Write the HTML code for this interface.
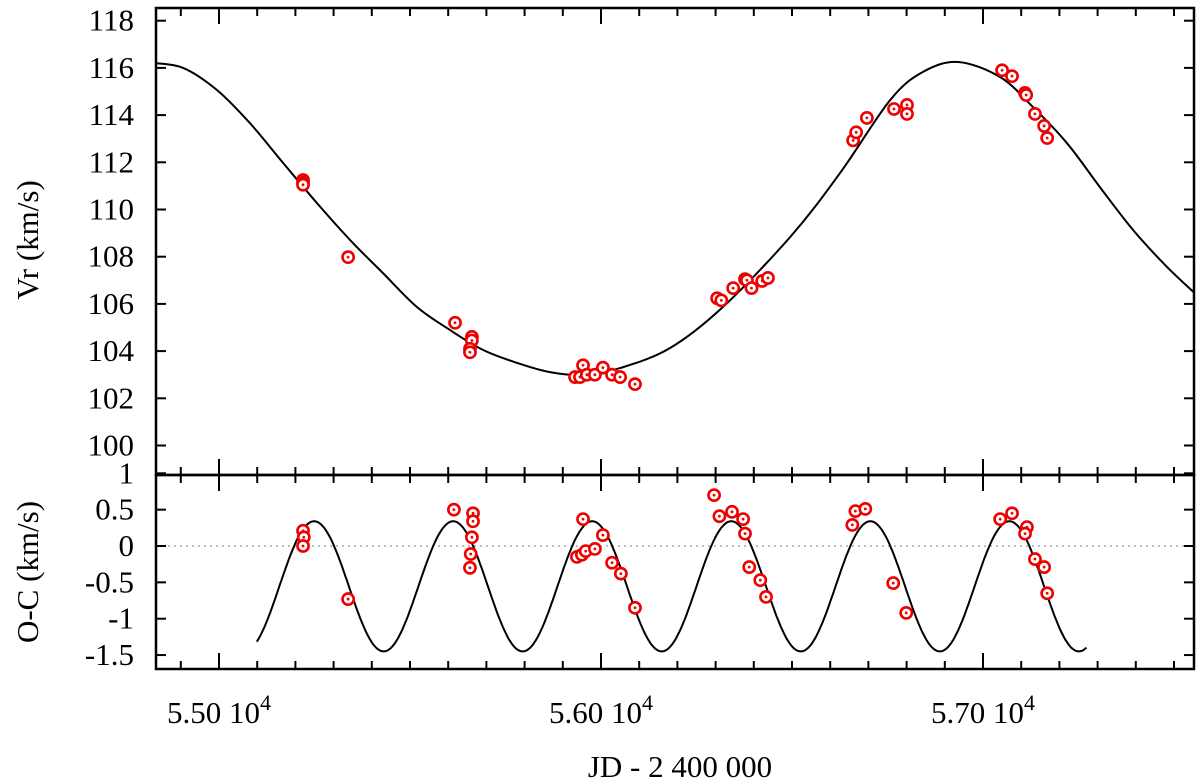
<!DOCTYPE html>
<html><head><meta charset="utf-8">
<style>
html,body{margin:0;padding:0;background:#fff;}
svg{display:block;font-family:"Liberation Serif",serif;}
</style></head>
<body>
<svg id="chart" width="1200" height="783" viewBox="0 0 1200 783" xmlns="http://www.w3.org/2000/svg">
  <g id="layer"></g>
</svg>
<script>
// ---- data ----
const rvJD = [55220,55220,55220,55338,55618,55662,55662,55657,55657,55932,55945,55953,55963,55984,56005,56029,56050,56089,56304,56315,56346,56377,56382,56394,56422,56437,56660,56668,56696,56767,56801,56801,57050,57076,57110,57113,57136,57160,57168];
const rvVal = [111.25,111.15,111.05,107.98,105.2,104.6,104.45,104.1,103.95,102.9,102.9,103.4,103.0,103.0,103.3,103.0,102.9,102.6,106.24,106.15,106.67,107.05,107.0,106.67,106.97,107.1,112.93,113.27,113.88,114.26,114.43,114.05,115.9,115.65,114.94,114.85,114.05,113.54,113.03];
const ocJD = [55220,55222,55220,55338,55615,55665,55665,55662,55659,55657,55937,55950,55960,55953,55984,56005,56029,56052,56089,56296,56310,56343,56372,56377,56388,56417,56432,56658,56666,56692,56765,56799,57045,57076,57115,57110,57136,57160,57168];
const ocVal = [0.21,0.12,0.0,-0.73,0.5,0.45,0.34,0.12,-0.11,-0.3,-0.15,-0.12,-0.07,0.37,-0.04,0.15,-0.23,-0.38,-0.85,0.70,0.41,0.47,0.37,0.17,-0.29,-0.47,-0.70,0.29,0.48,0.51,-0.51,-0.92,0.37,0.45,0.26,0.17,-0.18,-0.29,-0.65];
const curveJD = [54819,54906,54995,55081,55168,55256,55343,55429,55518,55605,55691,55780,55866,55958,56050,56181,56319,56495,56626,56757,56843,56935,57045,57131,57220,57306,57393,57482,57560];
const curveV = [116.22,116.00,115.06,113.66,111.97,110.28,108.71,107.31,105.87,104.89,104.05,103.50,103.11,102.99,103.28,104.13,105.87,108.83,111.55,114.64,115.83,116.25,115.61,114.34,112.81,110.95,109.13,107.56,106.37];
const ocModel = [ -0.555, 0.895, 55249, 364, 55099, 57272 ]; // mean, amplitude, T peak, period, start, end
const rvTicks = [100,102,104,106,108,110,112,114,116,118];
const ocTicks = [1,0.5,0,-0.5,-1,-1.5];
const ocTickLabels = ["1","0.5","0","-0.5","-1","-1.5"];
const xMajor = [55000,56000,57000];
const xMajorLabels = ["5.50","5.60","5.70"];

// ---- layout ----
const L=156, R=1194, T1=8, B1=475, B2=669;
const sx = d => 601 + (d-56000)*0.382;
const sy1 = v => 20.7 + (118-v)*23.6;
const sy2 = v => 546 - v*72.7;
const NS="http://www.w3.org/2000/svg";
const layer=document.getElementById('layer');
function mk(tag, attrs, parent){const e=document.createElementNS(NS,tag);for(const k in attrs)e.setAttribute(k,attrs[k]);(parent||layer).appendChild(e);return e;}

const defs=mk('defs',{});
const c1=mk('clipPath',{id:'c1'},defs); mk('rect',{x:L,y:T1,width:R-L,height:B1-T1},c1);

const zl=mk('line',{x1:L,x2:R,y1:sy2(0),y2:sy2(0),stroke:'#aaa','stroke-width':1.5,'stroke-dasharray':'2,4'});



function smooth(pts){let d='M'+pts[0][0].toFixed(1)+','+pts[0][1].toFixed(1);
 for(let i=0;i<pts.length-1;i++){const p0=pts[Math.max(0,i-1)],p1=pts[i],p2=pts[i+1],p3=pts[Math.min(pts.length-1,i+2)];
  const a=[p1[0]+(p2[0]-p0[0])/6,p1[1]+(p2[1]-p0[1])/6], b=[p2[0]-(p3[0]-p1[0])/6,p2[1]-(p3[1]-p1[1])/6];
  d+=' C'+a[0].toFixed(1)+','+a[1].toFixed(1)+' '+b[0].toFixed(1)+','+b[1].toFixed(1)+' '+p2[0].toFixed(1)+','+p2[1].toFixed(1);}
 return d;}

const topPts=curveJD.map((d,i)=>[sx(d),sy1(curveV[i])]);
const tc=mk('path',{d:smooth(topPts),fill:'none',stroke:'#000','stroke-width':2,'clip-path':'url(#c1)'});



let bp=[];
for(let t=ocModel[4];t<=ocModel[5];t+=4){bp.push([sx(t),sy2(ocModel[0]+ocModel[1]*Math.cos(2*Math.PI*(t-ocModel[2])/ocModel[3]))]);}
const bc=mk('path',{d:'M'+bp.map(p=>p[0].toFixed(1)+','+p[1].toFixed(1)).join(' L'),fill:'none',stroke:'#000','stroke-width':2});



function marker(x,y,name){
 const g=mk('g',{});
 
 
 mk('circle',{cx:x,cy:y,r:5.6,fill:'#fff',stroke:'#e00','stroke-width':2.6},g);
 mk('circle',{cx:x,cy:y,r:1.4,fill:'#e00'},g);
}
rvJD.forEach((d,i)=>marker(sx(d),sy1(rvVal[i]),'rv-point'));
ocJD.forEach((d,i)=>marker(sx(d),sy2(ocVal[i]),'oc-point'));

const f1=mk('rect',{x:L,y:T1,width:R-L,height:B1-T1,fill:'none',stroke:'#000','stroke-width':2.5});


const f2=mk('rect',{x:L,y:B1,width:R-L,height:B2-B1,fill:'none',stroke:'#000','stroke-width':2.5});



for(let d=54800; d<=57600; d+=100){
 const x=sx(d); if(x<L+2||x>R-2) continue;
 const major = d%1000===0; const len = major?16:8;
 [[T1,1],[B1,-1],[B1,1],[B2,-1]].forEach(([y,dir])=>{
  const tk=mk('line',{x1:x,x2:x,y1:y,y2:y+dir*len,stroke:'#000','stroke-width':2});
  
  
 });
}
xMajor.forEach((d,i)=>{
 const t=mk('text',{x:sx(d),y:723,'font-size':31,'text-anchor':'middle'});
 
 
 t.textContent=xMajorLabels[i]+' 10';
 const s=mk('tspan',{dy:-13,'font-size':22},t); s.textContent='4';
});

rvTicks.forEach(v=>{
 const y=sy1(v);
 mk('line',{x1:L,x2:L+10,y1:y,y2:y,stroke:'#000','stroke-width':2});
 mk('line',{x1:R,x2:R-10,y1:y,y2:y,stroke:'#000','stroke-width':2});
 const t=mk('text',{x:134,y:y+10,'font-size':31,'text-anchor':'end'});
 
 
 t.textContent=v;
});
ocTicks.forEach((v,i)=>{
 const y=sy2(v);
 mk('line',{x1:L,x2:L+10,y1:y,y2:y,stroke:'#000','stroke-width':2});
 mk('line',{x1:R,x2:R-10,y1:y,y2:y,stroke:'#000','stroke-width':2});
 const t=mk('text',{x:134,y:y+10,'font-size':31,'text-anchor':'end'});
 
 
 t.textContent=ocTickLabels[i];
});

const yt1=mk('text',{x:0,y:0,'font-size':31,'text-anchor':'middle',transform:'translate(38,240) rotate(-90)'});


yt1.textContent='Vr (km/s)';
const yt2=mk('text',{x:0,y:0,'font-size':31,'text-anchor':'middle',transform:'translate(38,572) rotate(-90)'});


yt2.textContent='O-C (km/s)';
const xt=mk('text',{x:680,y:777,'font-size':31,'text-anchor':'middle'});


xt.textContent='JD - 2 400 000';
</script>
</body></html>
